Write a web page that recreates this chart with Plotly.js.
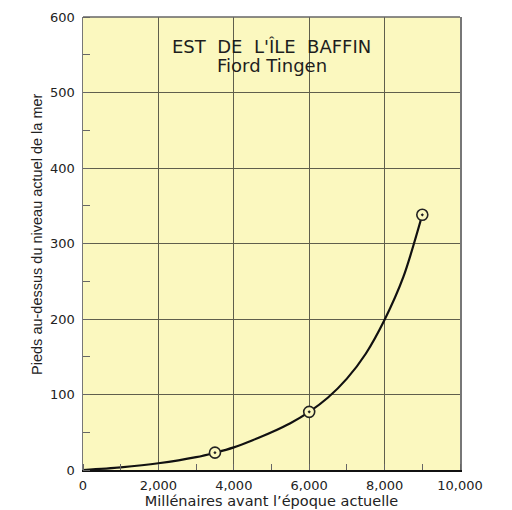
<!DOCTYPE html>
<html>
<head>
<meta charset="utf-8">
<script src="https://cdn.plot.ly/plotly-3.0.1.min.js"></script>
<style>html,body{margin:0;padding:0;background:#fff;}#chart{width:512px;height:510px;}</style>
</head>
<body>
<div id="chart"></div>
<script>
// Curve (years before present, feet above present sea level)
var curveYears = [0, 1000, 2000, 3000, 3500, 4000, 4500, 5000, 5500, 6000, 6500, 7000, 7500, 8000, 8500, 9000];
var curveFeet  = [0, 3.6, 8.9, 17, 22.9, 30, 39.5, 50, 62, 77, 96, 121, 154, 199, 256, 338];
// Dated samples (circled points)
var sampleYears = [3500, 6000, 9000];
var sampleFeet  = [23, 77, 338];
var xTickVals = [0, 2000, 4000, 6000, 8000, 10000];
var xTickText = ["0", "2,000", "4,000", "6,000", "8,000", "10,000"];
var yTickVals = [0, 100, 200, 300, 400, 500, 600];
var titleLine1 = "EST\u00a0 DE\u00a0 L'ÎLE\u00a0 BAFFIN";
var titleLine2 = "Fiord Tingen";
var xTitle = "Millénaires avant l’époque actuelle";
var yTitle = "Pieds au-dessus du niveau actuel de la mer";

var bg = "#fbf8bf";
var grid = "#5f5f4c";

var traces = [
  {x: curveYears, y: curveFeet, mode: "lines", type: "scatter",
   line: {color: "#111", width: 2.2, shape: "spline", smoothing: 0.8}, hoverinfo: "skip"},
  {x: sampleYears, y: sampleFeet, mode: "markers", type: "scatter",
   marker: {symbol: "circle-dot", size: 11, color: bg, line: {color: "#222", width: 1.6}}}
];

var layout = {
  width: 512, height: 510,
  margin: {l: 83, r: 52, t: 17, b: 40},
  paper_bgcolor: "#ffffff",
  plot_bgcolor: bg,
  showlegend: false,
  font: {family: "DejaVu Sans, sans-serif", color: "#222", size: 13},
  xaxis: {
    range: [0, 10000], tickvals: xTickVals, ticktext: xTickText,
    showgrid: true, gridcolor: grid, gridwidth: 1,
    zeroline: false, showline: true, linecolor: "#111", linewidth: 2,
    ticks: "", ticklabelstandoff: 2,
    tickfont: {family: "DejaVu Sans, sans-serif", size: 13, color: "#222"},
    minor: {dtick: 1000, tick0: 1000, ticks: "inside", ticklen: 6, tickcolor: "#666", tickwidth: 1, showgrid: false},
    title: {text: xTitle, font: {family: "DejaVu Sans, sans-serif", size: 14.5, color: "#222"}, standoff: 3}
  },
  yaxis: {
    range: [0, 600], tickvals: yTickVals,
    showgrid: true, gridcolor: grid, gridwidth: 1,
    zeroline: false, showline: true, linecolor: "#777", linewidth: 1.5, mirror: true,
    ticks: "", ticklabelstandoff: 4,
    tickfont: {family: "DejaVu Sans, sans-serif", size: 13, color: "#222"},
    minor: {dtick: 50, tick0: 50, ticks: "inside", ticklen: 7, tickcolor: "#666", tickwidth: 1, showgrid: false}
  },
  shapes: [
    {type: "line", xref: "paper", yref: "paper", x0: 0, x1: 1, y0: 1, y1: 1, line: {color: "#666", width: 1.5}}
  ],
  annotations: [
    {xref: "paper", yref: "paper", x: 0.5, y: 0.934, text: titleLine1, showarrow: false,
     xanchor: "center", yanchor: "middle", font: {family: "DejaVu Sans, sans-serif", size: 18, color: "#1e1e1e"}},
    {xref: "paper", yref: "paper", x: 0.5, y: 0.892, text: titleLine2, showarrow: false,
     xanchor: "center", yanchor: "middle", font: {family: "DejaVu Sans, sans-serif", size: 18, color: "#1e1e1e"}},
    {xref: "paper", yref: "paper", x: -0.122, y: 0.519, text: yTitle, showarrow: false, textangle: -90,
     xanchor: "center", yanchor: "middle", font: {family: "Liberation Sans, Arial, sans-serif", size: 14.5, color: "#222"}}
  ]
};

Plotly.newPlot("chart", traces, layout, {displayModeBar: false, staticPlot: true});
</script>
</body>
</html>
